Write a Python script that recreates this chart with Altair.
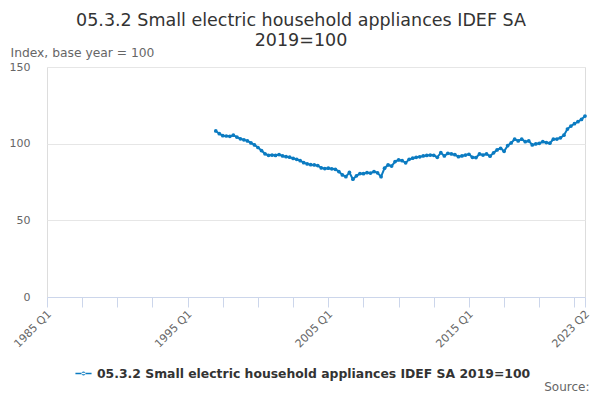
import altair as alt
import pandas as pd

TITLE = ["05.3.2 Small electric household appliances IDEF SA", "2019=100"]
SERIES = "05.3.2 Small electric household appliances IDEF SA 2019=100"
Y_TITLE = "Index, base year = 100"

# quarter index: 0 = 1985 Q1 ... 153 = 2023 Q2 ; data starts 1997 Q1 (index 48)
start_index = 48
values = [
    108.3, 106.5, 105.2, 105.0, 104.8, 105.5, 104.3, 103.2, 102.5, 101.8,
    100.5, 99.2, 97.5, 95.5, 93.4, 92.4, 92.6, 92.3, 92.9, 92.0,
    91.5, 91.2, 90.4, 89.8, 88.9, 87.6, 86.8, 86.3, 86.1, 85.7,
    84.2, 83.8, 84.0, 83.6, 83.3, 81.8, 79.6, 78.5, 81.2, 76.8,
    79.0, 80.5, 80.4, 81.1, 80.8, 81.8, 81.0, 78.5, 84.0, 86.1,
    85.4, 88.3, 89.4, 88.9, 87.5, 89.8, 90.5, 91.1, 91.4, 92.0,
    92.3, 92.6, 92.4, 91.1, 94.1, 92.0, 93.7, 93.3, 92.8, 91.5,
    92.0, 92.6, 93.1, 91.1, 90.9, 93.3, 92.6, 93.3, 91.8, 94.0,
    95.9, 97.0, 95.0, 98.7, 100.5, 102.9, 101.8, 102.9, 101.3, 101.8,
    99.2, 99.8, 100.2, 101.3, 100.7, 100.3, 102.9, 103.0, 103.8, 105.5,
    109.5, 111.5, 113.0, 114.3, 115.8, 118.0,
]
x_tick_values = [0, 10, 20, 30, 40, 50, 60, 70, 80, 90, 100, 110, 120, 130, 140, 150, 153]
y_tick_values = [0, 50, 100, 150]

df = pd.DataFrame({
    "q": list(range(start_index, start_index + len(values))),
    "value": values,
})
df["series"] = SERIES

COLOR = "#0b7bc1"
FONT = "DejaVu Sans"

label_expr = (
    "(datum.value % 40 == 0 || datum.value == 153) ? "
    "(toString(1985 + floor(datum.value / 4)) + ' Q' + toString(datum.value % 4 + 1)) : ''"
)

legend_symbol = (
    "M-1,-0.09L1,-0.09L1,0.09L-1,0.09Z "
    "M-0.25,0A0.25,0.25 0 1,0 0.25,0A0.25,0.25 0 1,0 -0.25,0Z"
)

chart = alt.Chart(df).mark_line(
    strokeWidth=2,
    point=alt.OverlayMarkDef(size=14, filled=True, color=COLOR),
).encode(
    x=alt.X(
        "q:Q",
        scale=alt.Scale(domain=[0, 153], nice=False, zero=False),
        axis=alt.Axis(
            values=x_tick_values,
            labelExpr=label_expr,
            labelAngle=-45,
            labelAlign="right",
            labelBaseline="top",
            labelFont=FONT,
            labelFontSize=11,
            labelColor="#666666",
            labelPadding=1,
            labelOffset=-2,
            labelOverlap=False,
            labelFlush=False,
            grid=False,
            domainColor="#ccd6eb",
            tickColor="#ccd6eb",
            tickSize=10,
            title="Source:",
            titleFont=FONT,
            titleFontSize=12,
            titleFontWeight="normal",
            titleColor="#666666",
            titleAlign="right",
            titleAnchor="end",
            titleX=542,
            titleY=93,
            titleBaseline="alphabetic",
        ),
    ),
    y=alt.Y(
        "value:Q",
        scale=alt.Scale(domain=[0, 150], nice=False),
        axis=alt.Axis(
            values=y_tick_values,
            labelFont=FONT,
            labelFontSize=11,
            labelColor="#666666",
            labelPadding=17,
            ticks=False,
            tickSize=0,
            domain=False,
            gridColor="#e6e6e6",
            title=Y_TITLE,
            titleFont=FONT,
            titleFontSize=12.3,
            titleFontWeight="normal",
            titleColor="#666666",
            titleAngle=0,
            titleAlign="left",
            titleBaseline="alphabetic",
            titleX=-37,
            titleY=-11,
        ),
    ),
    color=alt.Color(
        "series:N",
        scale=alt.Scale(range=[COLOR]),
        legend=alt.Legend(
            title=None,
            orient="none",
            legendX=28,
            legendY=298,
            symbolType=legend_symbol,
            symbolSize=260,
            symbolStrokeWidth=0,
            symbolFillColor=COLOR,
            labelFont=FONT,
            labelFontSize=12.4,
            labelFontWeight="bold",
            labelColor="#333333",
            labelLimit=600,
            labelOffset=5,
        ),
    ),
).properties(
    width=538,
    height=230,
    title=alt.TitleParams(
        text=TITLE,
        font=FONT,
        fontSize=17.5,
        fontWeight="normal",
        color="#333333",
        anchor="middle",
        frame="group",
        dx=-15,
        offset=-3,
        lineHeight=20,
    ),
    autosize=alt.AutoSizeParams(type="none"),
    padding={"left": 39, "top": 59, "right": 7, "bottom": 95},
).configure_view(
    stroke=None
).configure(
    background="white"
)

chart.save("out.html", embed_options={"renderer": "svg", "actions": False})
